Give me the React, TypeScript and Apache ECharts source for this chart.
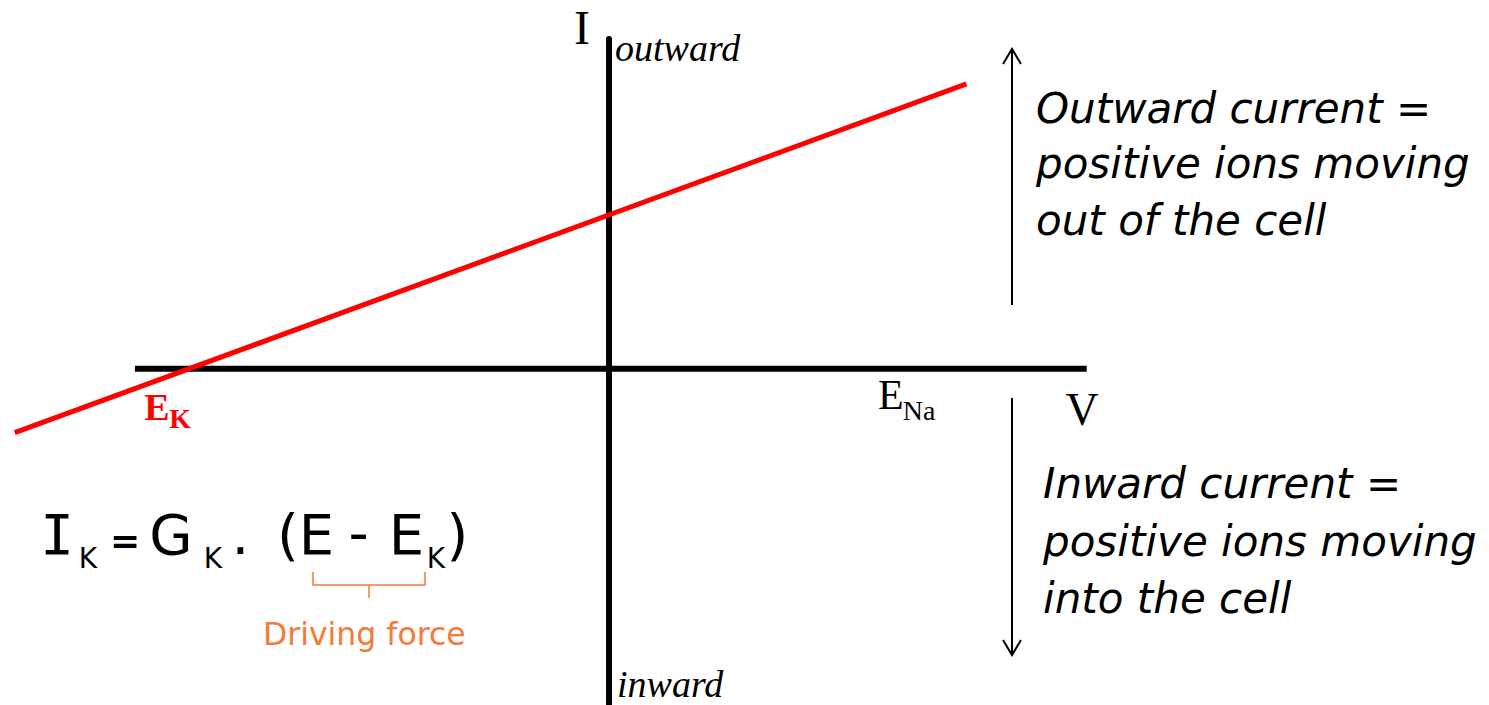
import React, { useEffect, useRef } from "react";
import * as echarts from "echarts";

// Visible plotting window (mV on V axis, arbitrary current units on I axis)
const vRange = [-124, 179.5];
const iRange = [-102, 100];

// Extent of the drawn V axis (black horizontal line), mV
const axisV = [-96.5, 97.5];

// I-V relation of the K+ current (red line)
const lineV = [-121, 73];
const lineI = [-19.4, 86.4];

// Reversal potentials (mV)
const E_K = -85;
const E_Na = 60;

// Texts
const rightTop = ["Outward current =", "positive ions moving", "out of the cell"];
const rightBottom = ["Inward current =", "positive ions moving", "into the cell"];

const SERIF = '"Liberation Serif", "Times New Roman", serif';
const SANS = '"DejaVu Sans", sans-serif';
const MONO = '"DejaVu Sans Mono", monospace';
const ORANGE = "#F47A3A";

function txt(x: number, y: number, text: string, font: string, fill: string, align = "left", z = 10) {
  return {
    type: "text",
    x,
    y,
    z,
    silent: true,
    style: {
      text,
      font,
      fill,
      align,
      textAlign: align,
      verticalAlign: "middle",
      textVerticalAlign: "middle",
    },
  };
}

export default function App() {
  const ref = useRef<HTMLDivElement>(null);

  useEffect(() => {
    if (!ref.current) return;
    const chart = echarts.init(ref.current, undefined, { renderer: "svg" });

    const hidden = {
      axisTick: { show: false },
      axisLabel: { show: false },
      splitLine: { show: false },
    };

    chart.setOption({
      animation: false,
      backgroundColor: "#ffffff",
      grid: { left: 0, right: 0, top: 39, bottom: 0, containLabel: false },
      xAxis: { type: "value", min: vRange[0], max: vRange[1], axisLine: { show: false }, ...hidden },
      yAxis: {
        type: "value",
        min: iRange[0],
        max: iRange[1],
        axisLine: { show: true, onZero: true, lineStyle: { color: "#000", width: 6 } },
        ...hidden,
      },
      series: [
        {
          name: "V axis",
          type: "line",
          data: axisV.map((v) => [v, 0]),
          symbol: "none",
          lineStyle: { color: "#000", width: 6 },
          z: 3,
          silent: true,
        },
        {
          name: "I_K",
          type: "line",
          data: lineV.map((v, k) => [v, lineI[k]]),
          symbol: "none",
          lineStyle: { color: "#ff0000", width: 5 },
          z: 5,
        },
      ],
    });

    const ek = chart.convertToPixel({ gridIndex: 0 }, [E_K, 0]) as number[];
    const ena = chart.convertToPixel({ gridIndex: 0 }, [E_Na, 0]) as number[];

    const graphics: any[] = [
      // axis names
      txt(582, 27, "I", `48px ${SERIF}`, "#000", "center"),
      txt(615, 48, "outward", `italic 38px ${SERIF}`, "#000"),
      txt(617, 684, "inward", `italic 38px ${SERIF}`, "#000"),
      txt(1082, 409, "V", `46px ${SERIF}`, "#000", "center"),
      // E_K label (red, bold)
      txt(ek[0] - 47, ek[1] + 38, "E", `bold 38px ${SERIF}`, "#ff0000"),
      txt(ek[0] - 22, ek[1] + 50, "K", `bold 28px ${SERIF}`, "#ff0000"),
      // E_Na label
      txt(ena[0] + 1, ena[1] + 26, "E", `42px ${SERIF}`, "#000", "right"),
      txt(ena[0], ena[1] + 42, "Na", `28px ${SERIF}`, "#000"),
      // arrows
      {
        type: "line",
        shape: { x1: 1012, y1: 305, x2: 1012, y2: 49 },
        style: { stroke: "#000", lineWidth: 2 },
      },
      {
        type: "polyline",
        shape: { points: [[1003, 64], [1012, 49], [1021, 64]] },
        style: { stroke: "#000", lineWidth: 2, fill: null },
      },
      {
        type: "line",
        shape: { x1: 1012, y1: 398, x2: 1012, y2: 655 },
        style: { stroke: "#000", lineWidth: 2 },
      },
      {
        type: "polyline",
        shape: { points: [[1003, 640], [1012, 655], [1021, 640]] },
        style: { stroke: "#000", lineWidth: 2, fill: null },
      },
      // brace under (E - E_K)
      {
        type: "polyline",
        shape: { points: [[313, 572], [313, 585], [425, 585], [425, 572]] },
        style: { stroke: ORANGE, lineWidth: 1.5, fill: null },
      },
      {
        type: "line",
        shape: { x1: 369, y1: 585, x2: 369, y2: 598 },
        style: { stroke: ORANGE, lineWidth: 1.5 },
      },
      txt(263, 634, "Driving force", `31.5px ${SANS}`, ORANGE),
    ];

    // right-hand explanation texts
    const topBaselines = [123, 178, 235];
    rightTop.forEach((t, k) => graphics.push(txt(1036, topBaselines[k] - 14.5, t, `italic 42px ${SANS}`, "#000")));
    const botBaselines = [498, 556, 613];
    rightBottom.forEach((t, k) => graphics.push(txt(1043, botBaselines[k] - 14.5, t, `italic 42px ${SANS}`, "#000")));

    // equation I_K = G_K . (E - E_K)
    const mainF = `56px ${SANS}`;
    const subF = `28px ${SANS}`;
    const mainY = 534;
    const subY = 558;
    graphics.push(
      txt(57, mainY, "I", `56px ${MONO}`, "#000", "center"),
      txt(88, subY, "K", subF, "#000", "center"),
      txt(125, 540, "=", `bold 36px ${SANS}`, "#000", "center"),
      txt(171, mainY, "G", mainF, "#000", "center"),
      txt(213, subY, "K", subF, "#000", "center"),
      txt(240.5, mainY, ".", mainF, "#000", "center"),
      txt(277, mainY, "(E", mainF, "#000", "left"),
      txt(358.5, 532, "-", mainF, "#000", "center"),
      txt(406.5, mainY, "E", mainF, "#000", "center"),
      txt(436, subY, "K", subF, "#000", "center"),
      txt(457.5, mainY, ")", mainF, "#000", "center")
    );

    chart.setOption({ graphic: { elements: graphics } });

    return () => chart.dispose();
  }, []);

  return (
    <div
      ref={ref}
      style={{ position: "fixed", left: 0, top: 0, width: 1489, height: 705, background: "#fff" }}
    />
  );
}
